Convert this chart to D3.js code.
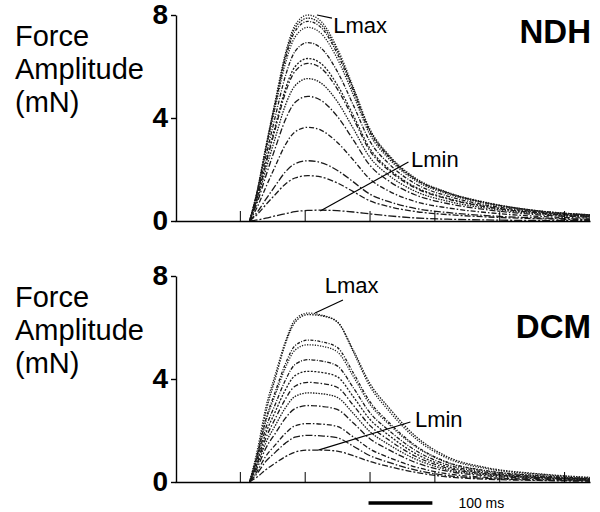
<!DOCTYPE html>
<html>
<head>
<meta charset="utf-8">
<script src="https://cdn.jsdelivr.net/npm/d3@7"></script>
<style>
  body { margin: 0; background: #fff; }
  svg { display: block; font-family: "Liberation Sans", Arial, Helvetica, sans-serif; }
</style>
</head>
<body>
<script>
// time after stimulus (ms), shared by every trace
const timeMs = [115, 127, 140, 155, 170, 185, 205, 225, 250, 275, 300, 330, 370, 420, 480, 560, 640];

// force (mN), Lmax first, Lmin last
const ndhTraces = [
  [0, 1.2, 2.88, 4.72, 6.48, 7.6, 8.0, 7.76, 6.72, 5.2, 3.6, 2.56, 1.68, 1.12, 0.72, 0.4, 0.24],
  [0, 1.18, 2.84, 4.65, 6.38, 7.49, 7.88, 7.64, 6.62, 5.12, 3.55, 2.52, 1.65, 1.1, 0.71, 0.39, 0.24],
  [0, 1.16, 2.79, 4.57, 6.28, 7.36, 7.75, 7.52, 6.51, 5.04, 3.49, 2.48, 1.63, 1.09, 0.7, 0.39, 0.23],
  [0, 1.13, 2.71, 4.44, 6.09, 7.14, 7.52, 7.29, 6.32, 4.89, 3.38, 2.41, 1.58, 1.05, 0.68, 0.38, 0.23],
  [0, 1.04, 2.49, 4.09, 5.61, 6.58, 6.93, 6.72, 5.82, 4.5, 3.12, 2.22, 1.46, 0.97, 0.62, 0.35, 0.21],
  [0, 0.95, 2.27, 3.72, 5.11, 5.99, 6.31, 6.12, 5.3, 4.1, 2.84, 2.02, 1.33, 0.88, 0.57, 0.32, 0.19],
  [0, 0.92, 2.2, 3.61, 4.96, 5.81, 6.12, 5.94, 5.14, 3.98, 2.75, 1.96, 1.29, 0.86, 0.55, 0.31, 0.18],
  [0, 0.83, 1.99, 3.26, 4.48, 5.25, 5.53, 5.36, 4.65, 3.59, 2.49, 1.77, 1.16, 0.77, 0.5, 0.28, 0.17],
  [0, 0.73, 1.74, 2.86, 3.92, 4.6, 4.84, 4.69, 4.07, 3.15, 2.18, 1.55, 1.02, 0.68, 0.44, 0.24, 0.15],
  [0, 0.55, 1.31, 2.15, 2.95, 3.46, 3.64, 3.53, 3.06, 2.37, 1.64, 1.16, 0.76, 0.51, 0.33, 0.18, 0.11],
  [0, 0.35, 0.84, 1.38, 1.9, 2.22, 2.34, 2.27, 1.97, 1.52, 1.05, 0.75, 0.49, 0.33, 0.21, 0.12, 0.07],
  [0, 0.26, 0.63, 1.04, 1.43, 1.67, 1.76, 1.71, 1.48, 1.14, 0.79, 0.56, 0.37, 0.25, 0.16, 0.09, 0.05],
  [0, 0.04, 0.11, 0.2, 0.28, 0.36, 0.41, 0.42, 0.4, 0.35, 0.28, 0.2, 0.12, 0.07, 0.04, 0.02, 0.01]
];

// force (mN), Lmax first, Lmin last
const dcmTraces = [
  [0, 1.25, 2.89, 4.2, 5.44, 6.3, 6.56, 6.49, 6.23, 5.05, 3.74, 2.76, 1.71, 0.92, 0.52, 0.3, 0.16],
  [0, 1.1, 2.7, 4.05, 5.35, 6.2, 6.5, 6.46, 6.22, 5.12, 3.85, 2.88, 1.8, 0.98, 0.56, 0.32, 0.18],
  [0, 1.05, 2.42, 3.53, 4.57, 5.29, 5.51, 5.45, 5.23, 4.24, 3.14, 2.31, 1.43, 0.77, 0.44, 0.25, 0.14],
  [0, 1.01, 2.35, 3.41, 4.42, 5.12, 5.33, 5.28, 5.06, 4.1, 3.04, 2.24, 1.39, 0.75, 0.43, 0.24, 0.13],
  [0, 0.9, 2.09, 3.04, 3.94, 4.56, 4.75, 4.7, 4.51, 3.66, 2.71, 2.0, 1.24, 0.67, 0.38, 0.21, 0.12],
  [0, 0.82, 1.89, 2.75, 3.57, 4.13, 4.3, 4.26, 4.09, 3.31, 2.45, 1.81, 1.12, 0.6, 0.34, 0.19, 0.11],
  [0, 0.74, 1.7, 2.48, 3.21, 3.72, 3.87, 3.83, 3.68, 2.98, 2.21, 1.63, 1.01, 0.54, 0.31, 0.17, 0.1],
  [0, 0.66, 1.52, 2.21, 2.87, 3.32, 3.46, 3.43, 3.29, 2.66, 1.97, 1.45, 0.9, 0.48, 0.28, 0.16, 0.09],
  [0, 0.56, 1.31, 1.9, 2.47, 2.85, 2.97, 2.94, 2.82, 2.29, 1.69, 1.25, 0.77, 0.42, 0.24, 0.13, 0.07],
  [0, 0.43, 1.0, 1.45, 1.88, 2.18, 2.27, 2.25, 2.16, 1.75, 1.29, 0.95, 0.59, 0.32, 0.18, 0.1, 0.06],
  [0, 0.34, 0.8, 1.16, 1.5, 1.74, 1.81, 1.79, 1.72, 1.39, 1.03, 0.76, 0.47, 0.25, 0.14, 0.08, 0.05],
  [0, 0.2, 0.48, 0.74, 0.98, 1.16, 1.24, 1.24, 1.2, 1.02, 0.8, 0.6, 0.38, 0.2, 0.11, 0.06, 0.03]
];

const yTicks = [0, 4, 8];
const xTicks = [100, 200, 300, 400, 500, 600];
const yLabelLines = ["Force", "Amplitude", "(mN)"];

// label text position [t, mN] and pointer from -> to, in data units
const ndhNotes = [
  { text: "Lmax", at: [244, 7.3], from: [242, 7.88], to: [219, 8.0] },
  { text: "Lmin", at: [364, 2.1], from: [360, 2.29], to: [224, 0.39] }
];
const dcmNotes = [
  { text: "Lmax", at: [231, 7.34], from: [259, 7.07], to: [216, 6.56] },
  { text: "Lmin", at: [370, 2.14], from: [363, 2.33], to: [221, 1.24] }
];

const width = 600, height = 512;
const dashes = ["1.2,1.4", "1.5,1.2", "3,1.5,1,1.5", "1.2,1.4", "4,1.5,1,1.5", "2,1.5",
                "5,2,1.5,2", "1.5,1.2", "6,2,1.5,2", "5,2,1.5,2", "7,2,1.5,2", "6,2,2,2", "8,2,2,2"];

const svg = d3.select("body").append("svg")
  .attr("width", width)
  .attr("height", height);

const x = d3.scaleLinear().domain([0, 640]).range([175, 590]);

function drawPanel(traces, notes, name, top, bottom) {
  const y = d3.scaleLinear().domain([0, 8]).range([bottom, top]);
  const g = svg.append("g");

  const line = d3.line()
    .x((d, i) => x(timeMs[i]))
    .y(d => y(d))
    .curve(d3.curveMonotoneX);

  g.selectAll(".trace")
    .data(traces)
    .join("path")
    .classed("trace", true)
    .attr("d", line)
    .attr("fill", "none")
    .attr("stroke", "#1a1a1a")
    .attr("stroke-width", 1.3)
    .attr("stroke-dasharray", (d, i) => dashes[i % dashes.length]);

  // y axis
  const ya = g.append("g")
    .attr("transform", `translate(${x(0) + 1},0)`)
    .call(d3.axisLeft(y).tickValues(yTicks).tickSize(5).tickSizeOuter(0).tickPadding(3));
  ya.selectAll("text")
    .attr("font-size", 28)
    .attr("font-weight", "bold")
    .attr("font-family", "'Liberation Sans', Arial, sans-serif")
    .attr("fill", "#000");
  ya.selectAll("line,path").attr("stroke", "#000").attr("stroke-width", 1.4);

  // x axis, ticks pointing up, no labels
  const xa = g.append("g")
    .attr("transform", `translate(0,${bottom})`)
    .call(d3.axisBottom(x).tickValues(xTicks).tickSize(-10).tickSizeOuter(0).tickFormat(""));
  xa.selectAll("line").attr("stroke", "#000").attr("stroke-width", 1);
  xa.select(".domain").attr("stroke", "#000").attr("stroke-width", 1.4);

  // y label
  g.append("text")
    .attr("x", 15)
    .attr("y", top + 31)
    .attr("font-size", 29)
    .attr("fill", "#000")
    .selectAll("tspan")
    .data(yLabelLines)
    .join("tspan")
    .attr("x", 15)
    .attr("dy", (d, i) => i ? 33 : 0)
    .text(d => d);

  // panel name
  g.append("text")
    .attr("x", 591)
    .attr("y", name === "NDH" ? top + 28 : top + 62)
    .attr("text-anchor", "end")
    .attr("font-size", 33)
    .attr("font-weight", "bold")
    .attr("fill", "#000")
    .text(name);

  // Lmax / Lmin pointers
  g.selectAll(".ptr")
    .data(notes)
    .join("line")
    .classed("ptr", true)
    .attr("x1", d => x(d.from[0])).attr("y1", d => y(d.from[1]))
    .attr("x2", d => x(d.to[0])).attr("y2", d => y(d.to[1]))
    .attr("stroke", "#000")
    .attr("stroke-width", 1.2);

  g.selectAll(".note")
    .data(notes)
    .join("text")
    .classed("note", true)
    .attr("x", d => x(d.at[0]))
    .attr("y", d => y(d.at[1]))
    .attr("font-size", 22)
    .attr("fill", "#000")
    .text(d => d.text);

  return y;
}

drawPanel(ndhTraces, ndhNotes, "NDH", 15, 221);
drawPanel(dcmTraces, dcmNotes, "DCM", 276, 482);

// 100 ms scale bar under the DCM panel
const barY = 503;
svg.append("line")
  .attr("x1", x(300) - 1).attr("x2", x(400) - 2)
  .attr("y1", barY).attr("y2", barY)
  .attr("stroke", "#000")
  .attr("stroke-width", 3.5);
svg.append("text")
  .attr("x", x(400) + 24)
  .attr("y", barY + 5)
  .attr("font-size", 14)
  .attr("fill", "#000")
  .text("100 ms");
</script>
</body>
</html>
